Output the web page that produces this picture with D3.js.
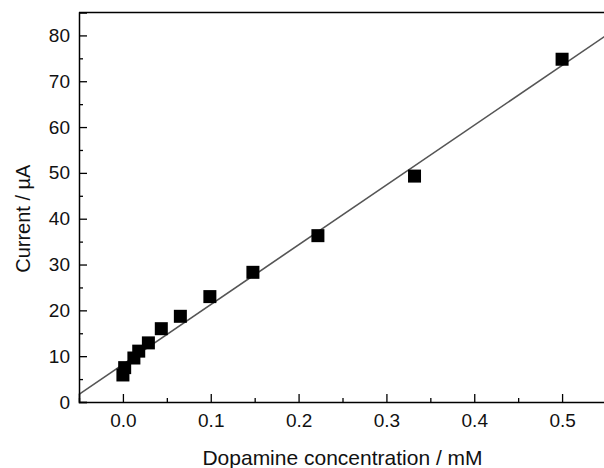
<!DOCTYPE html>
<html>
<head>
<meta charset="utf-8">
<script src="https://cdn.jsdelivr.net/npm/d3@7"></script>
<style>
  body { margin: 0; background: #fff; }
  svg { display: block; font-family: "Liberation Sans", Arial, sans-serif; }
</style>
</head>
<body>
<svg id="chart" width="604" height="468"></svg>
<script>
// concentration (mM) and measured current (uA)
const concentration = [0.0, 0.002, 0.0125, 0.018, 0.029, 0.0437, 0.0654, 0.099, 0.148, 0.222, 0.332, 0.5];
const current = [5.9, 7.5, 9.6, 11.1, 12.9, 16.0, 18.7, 23.0, 28.3, 36.3, 49.3, 74.8];

// linear fit: current = fitIntercept + fitSlope * concentration
const fitIntercept = 8.2;
const fitSlope = 130.5;

const xTicks = [0.0, 0.1, 0.2, 0.3, 0.4, 0.5];
const xMinorTicks = [-0.05, 0.05, 0.15, 0.25, 0.35, 0.45, 0.55];
const yTicks = [0, 10, 20, 30, 40, 50, 60, 70, 80];
const yMinorTicks = [5, 15, 25, 35, 45, 55, 65, 75];

const margin = { top: 12.5, right: -2, bottom: 66, left: 79 };
const width = 604 - margin.left - margin.right;
const height = 468 - margin.top - margin.bottom;

const svg = d3.select("#chart");
const g = svg.append("g").attr("transform", `translate(${margin.left}, ${margin.top})`);

const x = d3.scaleLinear().domain([-0.05, 0.55]).range([0, width]);
const y = d3.scaleLinear().domain([0, 85]).range([height, 0]);

// fit line
const xDom = x.domain();
g.append("line")
  .attr("x1", x(xDom[0]))
  .attr("y1", y(fitIntercept + fitSlope * xDom[0]))
  .attr("x2", x(xDom[1]))
  .attr("y2", y(fitIntercept + fitSlope * xDom[1]))
  .attr("stroke", "#555")
  .attr("stroke-width", 1.6);

// points
const sq = 13;
g.selectAll(".pt")
  .data(concentration.map((c, i) => ({ c: c, v: current[i] })))
  .enter()
  .append("rect")
  .attr("class", "pt")
  .attr("x", (d) => x(d.c) - sq / 2)
  .attr("y", (d) => y(d.v) - sq / 2)
  .attr("width", sq)
  .attr("height", sq)
  .attr("fill", "#000");

const xAxis = g.append("g")
  .attr("transform", `translate(0, ${height})`)
  .call(d3.axisBottom(x).tickValues(xTicks).tickSize(-8).tickPadding(12).tickFormat(d3.format(".1f")));
g.append("g")
  .attr("transform", `translate(0, ${height})`)
  .call(d3.axisBottom(x).tickValues(xMinorTicks).tickSize(-4).tickFormat(""))
  .select(".domain").remove();

const yAxis = g.append("g")
  .call(d3.axisLeft(y).tickValues(yTicks).tickSize(-8).tickPadding(9));
g.append("g")
  .call(d3.axisLeft(y).tickValues(yMinorTicks).tickSize(-4).tickFormat(""))
  .select(".domain").remove();

// top frame
g.append("line")
  .attr("x1", 0).attr("x2", width)
  .attr("y1", 0).attr("y2", 0)
  .attr("stroke", "#000").attr("stroke-width", 1.5);

g.selectAll(".domain").attr("stroke-width", 1.5);
g.selectAll(".tick line").attr("stroke-width", 1.3);
g.selectAll(".tick text")
  .attr("font-size", 19)
  .attr("fill", "#111")
  .attr("font-family", "Liberation Sans, Arial, sans-serif");

// axis titles
svg.append("text")
  .attr("x", margin.left + x(0.25))
  .attr("y", 465)
  .attr("text-anchor", "middle")
  .attr("font-size", 21)
  .attr("fill", "#111")
  .text("Dopamine concentration / mM");

svg.append("text")
  .attr("transform", `translate(30, ${margin.top + y(40)}) rotate(-90)`)
  .attr("text-anchor", "middle")
  .attr("font-size", 20)
  .attr("fill", "#111")
  .text("Current / \u00b5A");
</script>
</body>
</html>
